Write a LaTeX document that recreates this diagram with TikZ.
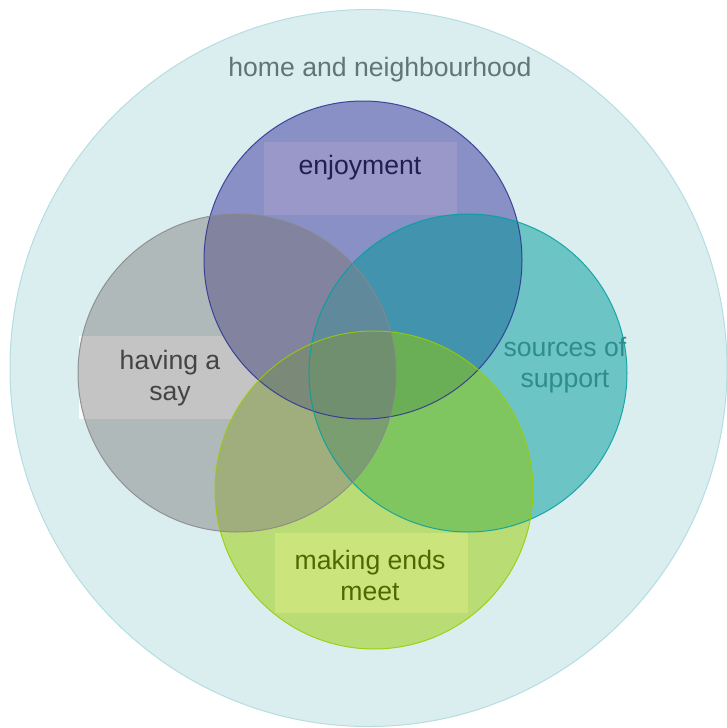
\documentclass[tikz,border=0pt]{standalone}
\usepackage{fontspec}
\setmainfont{Liberation Sans}
\definecolor{bgc}{HTML}{DAEEF0}
\definecolor{bge}{HTML}{B5DDE2}
\definecolor{cB}{HTML}{8890C6}
\definecolor{cG}{HTML}{B0B9BA}
\definecolor{cT}{HTML}{6CC4C4}
\definecolor{cN}{HTML}{B9DC74}
\definecolor{cBG}{HTML}{82849F}
\definecolor{cBT}{HTML}{4293AE}
\definecolor{cBN}{HTML}{6F9A78}
\definecolor{cGT}{HTML}{6A8F90}
\definecolor{cGN}{HTML}{A0AE7E}
\definecolor{cTN}{HTML}{80C660}
\definecolor{cBGT}{HTML}{608A9C}
\definecolor{cBGN}{HTML}{7B8A78}
\definecolor{cBTN}{HTML}{6AAE56}
\definecolor{cGTN}{HTML}{7A9E70}
\definecolor{cAll}{HTML}{708F6E}
\definecolor{eB}{HTML}{2E3192}
\definecolor{eG}{HTML}{888888}
\definecolor{eT}{HTML}{00A0A0}
\definecolor{eN}{HTML}{99CC00}
\definecolor{boxB}{HTML}{9A98C8}
\definecolor{boxG}{HTML}{C4C4C4}
\definecolor{boxN}{HTML}{CCE47C}
\definecolor{tH}{HTML}{607578}
\definecolor{tB}{HTML}{20204F}
\definecolor{tG}{HTML}{444444}
\definecolor{tT}{HTML}{2F8C8C}
\definecolor{tN}{HTML}{4C6A00}
\begin{document}
\begin{tikzpicture}[x=1pt,y=-1pt,
  lbl/.style={font=\fontsize{26.6}{31}\selectfont, align=center, inner sep=0pt},
  ring/.style={line width=1pt, fill=none}]
\useasboundingbox (0,0) rectangle (726,728);
\fill[white] (0,0) rectangle (726,728);
\coordinate (cH) at (368.5,368);
\coordinate (pB) at (363,260);
\coordinate (pG) at (237,373);
\coordinate (pT) at (468,373);
\coordinate (pN) at (374,490);
\def\R{159}
% outer circle
\filldraw[fill=bgc, draw=bge, line width=1pt] (cH) circle (358.5);
\node[lbl, text=tH] (home) at (380,70) {home and neighbourhood};
% box part lying outside its circle
\fill[white!85!bgc] (79,336) rectangle (263,419);
% single circles
\fill[cB] (pB) circle (\R);
\fill[cG] (pG) circle (\R);
\fill[cT] (pT) circle (\R);
\fill[cN] (pN) circle (\R);
% label boxes
\fill[boxB] (264,142) rectangle (457,215);
\begin{scope}\clip (pG) circle (\R); \fill[boxG] (79,336) rectangle (263,419);\end{scope}
\fill[boxN] (275,533) rectangle (468,613);
% pairs
\begin{scope}\clip (pB) circle (\R); \fill[cBG] (pG) circle (\R);\end{scope}
\begin{scope}\clip (pB) circle (\R); \fill[cBT] (pT) circle (\R);\end{scope}
\begin{scope}\clip (pB) circle (\R); \fill[cBN] (pN) circle (\R);\end{scope}
\begin{scope}\clip (pG) circle (\R); \fill[cGT] (pT) circle (\R);\end{scope}
\begin{scope}\clip (pG) circle (\R); \fill[cGN] (pN) circle (\R);\end{scope}
\begin{scope}\clip (pT) circle (\R); \fill[cTN] (pN) circle (\R);\end{scope}
% triples
\begin{scope}\clip (pB) circle (\R); \clip (pG) circle (\R); \fill[cBGT] (pT) circle (\R);\end{scope}
\begin{scope}\clip (pB) circle (\R); \clip (pG) circle (\R); \fill[cBGN] (pN) circle (\R);\end{scope}
\begin{scope}\clip (pB) circle (\R); \clip (pT) circle (\R); \fill[cBTN] (pN) circle (\R);\end{scope}
\begin{scope}\clip (pG) circle (\R); \clip (pT) circle (\R); \fill[cGTN] (pN) circle (\R);\end{scope}
% all four
\begin{scope}\clip (pB) circle (\R); \clip (pG) circle (\R); \clip (pT) circle (\R); \fill[cAll] (pN) circle (\R);\end{scope}
% outlines
\draw[ring, eB, opacity=0.85] (pB) circle (\R);
\draw[ring, eT, opacity=0.85] (pT) circle (\R);
\draw[ring, eN, opacity=0.85] (pN) circle (\R);
\draw[ring, eG, opacity=0.85] (pG) circle (\R);
% labels
\node[lbl, text=tB] (enjoy) at (360,168) {enjoyment};
\node[lbl, text=tG] (say) at (170,378) {having a\\say};
\node[lbl, text=tT] (support) at (565,365) {sources of\\support};
\node[lbl, text=tN] (ends) at (370,575) {making ends\\meet};
\end{tikzpicture}
\end{document}
